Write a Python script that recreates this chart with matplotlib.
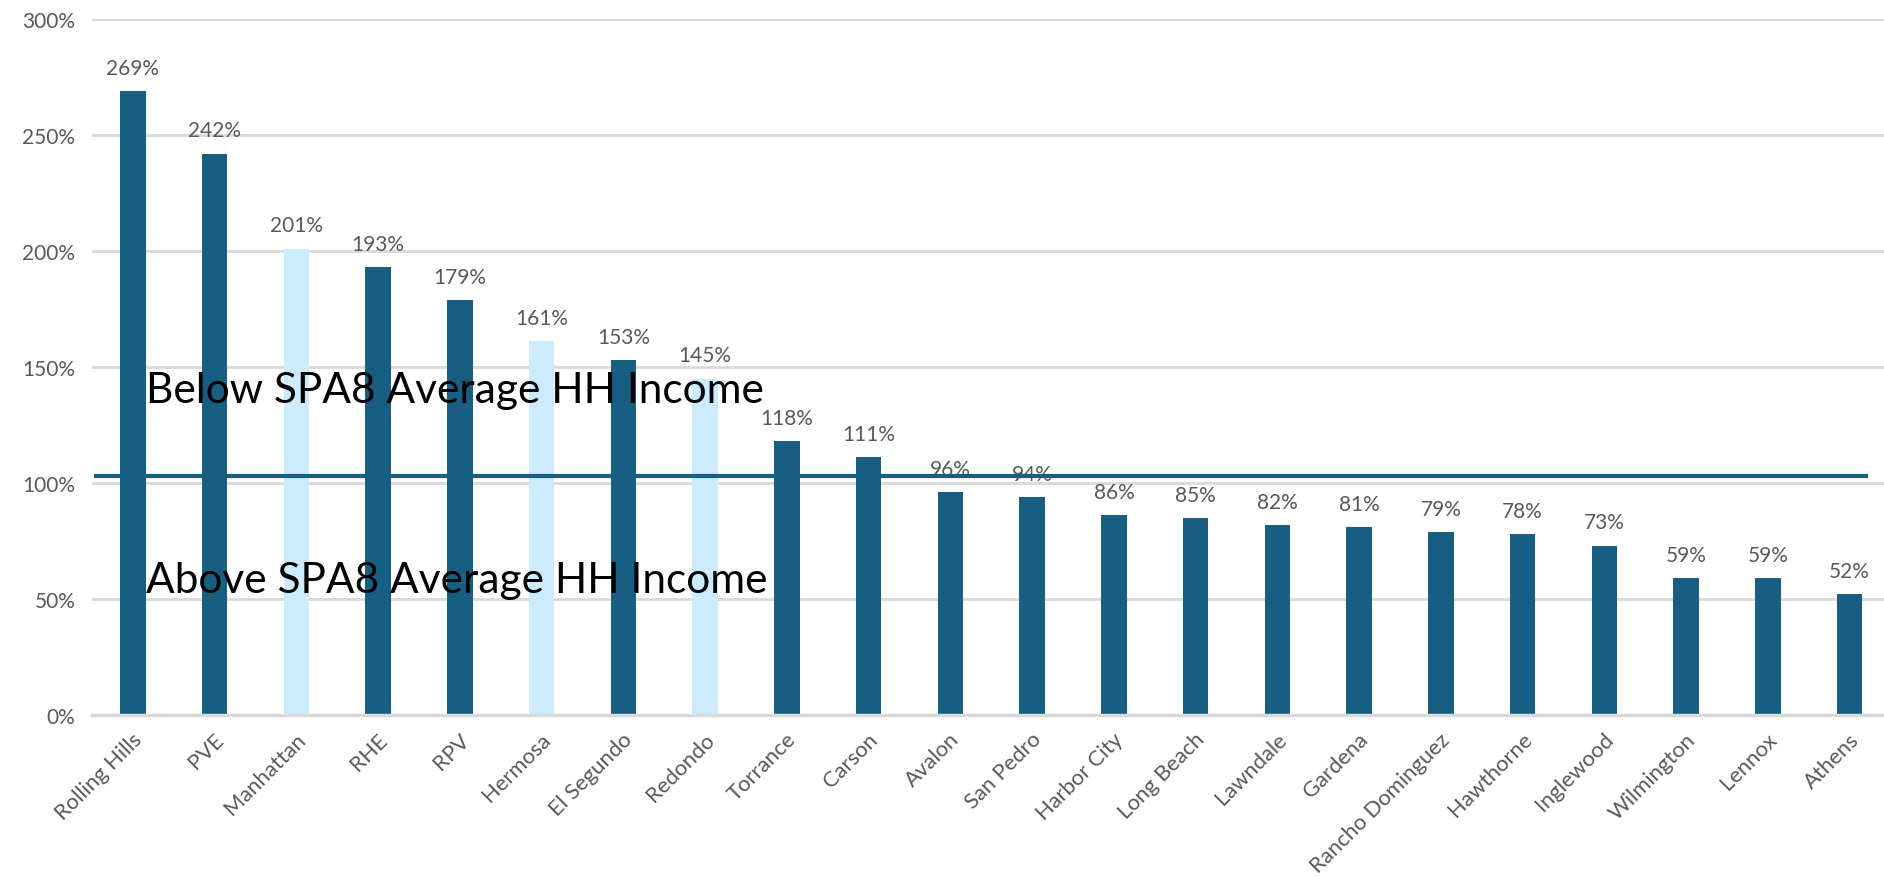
import matplotlib
matplotlib.use("Agg")
import matplotlib.pyplot as plt
from matplotlib.ticker import FuncFormatter
from matplotlib.transforms import ScaledTranslation

categories = ["Rolling Hills", "PVE", "Manhattan", "RHE", "RPV", "Hermosa", "El Segundo",
              "Redondo", "Torrance", "Carson", "Avalon", "San Pedro", "Harbor City",
              "Long Beach", "Lawndale", "Gardena", "Rancho Dominguez", "Hawthorne",
              "Inglewood", "Wilmington", "Lennox", "Athens"]
values = [269, 242, 201, 193, 179, 161, 153, 145, 118, 111, 96, 94, 86, 85, 82, 81, 79, 78, 73, 59, 59, 52]
highlight = ["Manhattan", "Hermosa", "Redondo"]
average_level = 103
yticks = [0, 50, 100, 150, 200, 250, 300]
text_upper = "Below SPA8 Average HH Income"
text_lower = "Above SPA8 Average HH Income"

DARK = "#175E80"
LIGHT = "#CCEBFF"
GRID = "#D9D9D9"
TXT = "#595959"

plt.rcParams['font.family'] = ['Lato', 'DejaVu Sans']

fig = plt.figure(figsize=(18.84, 8.78), dpi=100)
ax = fig.add_axes([92/1884, (878-716)/878, 1 - 92/1884, (716-20)/878])

x = list(range(len(categories)))
colors = [LIGHT if c in highlight else DARK for c in categories]
ax.bar(x, values, width=0.31, color=colors, zorder=2)

for xi, v in zip(x, values):
    ax.annotate(f"{v}%", (xi, v), xytext=(0, 9.5), textcoords="offset points",
                ha="center", va="bottom", fontsize=15, color=TXT)

ax.plot([-0.45, 21.2], [average_level, average_level], color=DARK, lw=3.0, zorder=3)

ax.set_xlim(-0.5, len(categories) - 0.58)
ax.set_ylim(0, 300)
ax.set_yticks(yticks)
ax.yaxis.set_major_formatter(FuncFormatter(lambda v, p: f"{int(v)}%"))
ax.grid(axis="y", color=GRID, lw=2, zorder=0)
ax.set_axisbelow(True)
for s in ["top", "right", "left"]:
    ax.spines[s].set_visible(False)
ax.spines["bottom"].set_color(GRID)
ax.spines["bottom"].set_linewidth(2.5)
ax.tick_params(axis="both", length=0, labelcolor=TXT)
ax.tick_params(axis="y", pad=12, labelsize=15)
ax.set_xticks(x)
ax.set_xticklabels(categories, rotation=45, ha="right", va="center",
                   rotation_mode="anchor", fontsize=15.8)
ax.tick_params(axis="x", pad=15)
off = ScaledTranslation(6/100, 0, fig.dpi_scale_trans)
for lab in ax.get_xticklabels():
    lab.set_transform(lab.get_transform() + off)

ax.text(0.16, 140, text_upper, fontsize=30.5, color="black", va="center", ha="left", zorder=4)
ax.text(0.16, 58, text_lower, fontsize=30.5, color="black", va="center", ha="left", zorder=4)

fig.savefig("out.png", dpi=100)
